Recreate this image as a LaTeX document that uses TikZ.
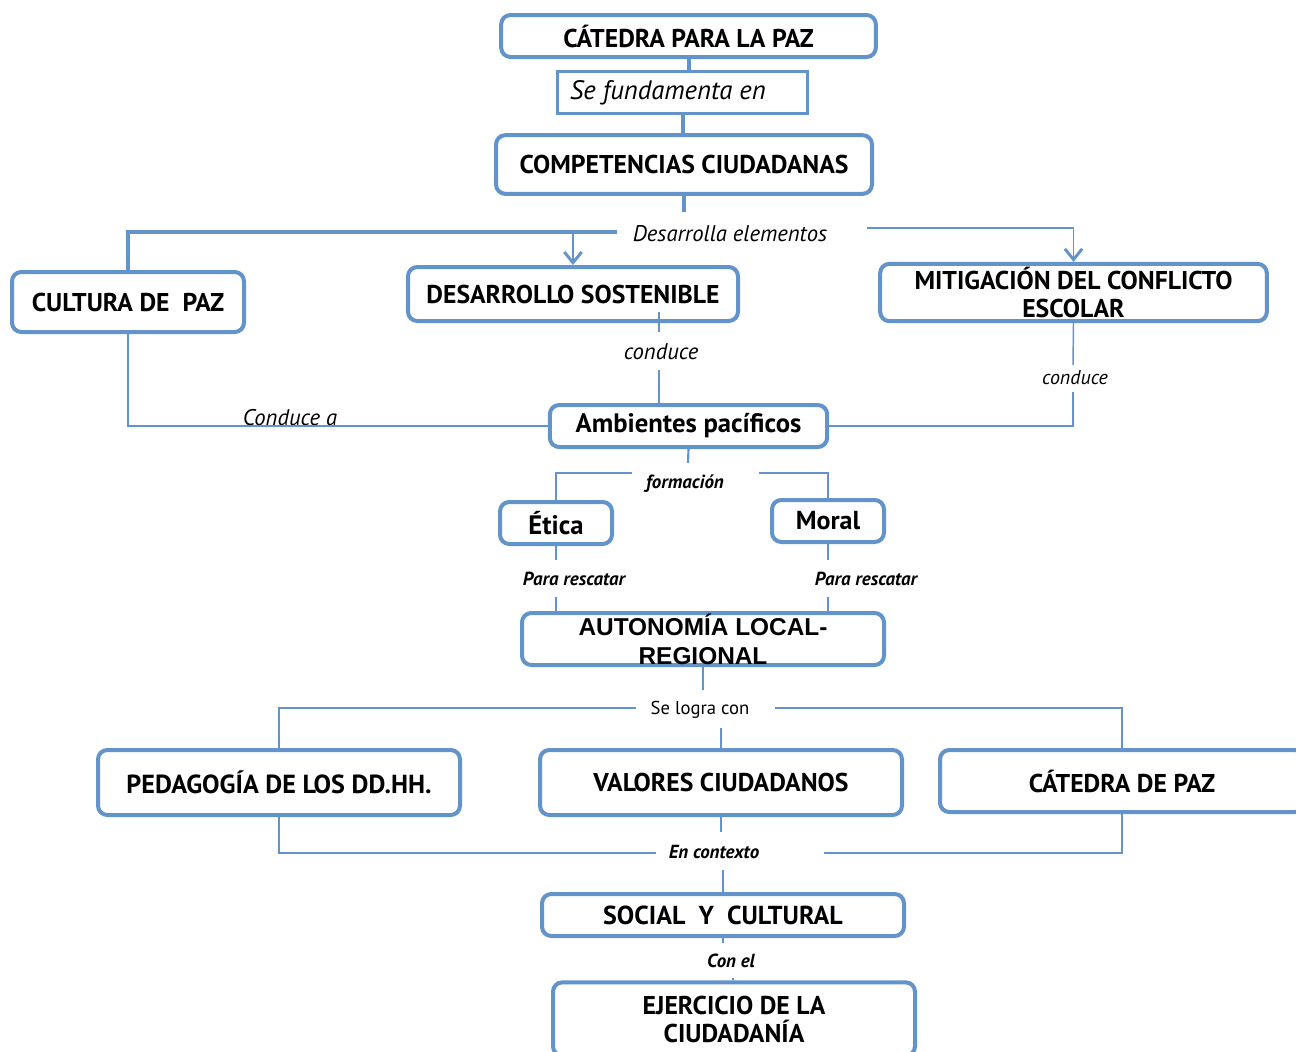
\documentclass[tikz,border=0pt]{standalone}
\usepackage{fontspec}
\setmainfont{PT Sans}
\newfontfamily\arialf{Liberation Sans}
\usetikzlibrary{arrows.meta}
\definecolor{bc}{RGB}{98,147,202}
\tikzset{
  box/.style={draw=bc, line width=3pt, rounded corners=7pt, fill=white, inner sep=0pt, align=center, font=\fontsize{19.3}{21}\selectfont\bfseries},
  conn/.style={draw=bc, line width=1.1pt},
  thickc/.style={draw=bc, line width=3pt},
  midc/.style={draw=bc, line width=1.6pt},
  arr/.style={-{Straight Barb[length=8pt,width=13pt,line width=2.2pt]}},
  lab/.style={inner sep=1pt, font=\fontsize{17}{18}\selectfont\itshape},
  slab/.style={inner sep=1pt, font=\fontsize{14.2}{15}\selectfont\bfseries\itshape},
}
\begin{document}
\begin{tikzpicture}[x=0.75pt,y=-0.75pt]
\path[use as bounding box] (0,0) rectangle (1296,1051);
\clip (0,0) rectangle (1296,1051);
\fill[white] (0,0) rectangle (1296,1051);
% nodes
\node[box, minimum width=281pt, minimum height=31.5pt] (cat) at (688.5,36) {CÁTEDRA PARA LA PAZ};
\node[draw=bc, line width=2.2pt, fill=white, minimum width=188pt, minimum height=32pt, inner sep=0pt, font=\fontsize{20}{21}\selectfont\itshape] (fund) at (682.5,92.5) {\hspace*{-22pt}\raisebox{-2pt}{Se fundamenta en}};
\node[box, minimum width=282pt, minimum height=44pt] (comp) at (684,164.5) {COMPETENCIAS CIUDADANAS};
\node[box, minimum width=174pt, minimum height=45pt] (cult) at (128,302) {CULTURA DE\ \ PAZ};
\node[box, minimum width=247.5pt, minimum height=40.5pt] (desa) at (573,294) {DESARROLLO SOSTENIBLE};
\node[box, minimum width=290pt, minimum height=43pt, font=\fontsize{19.3}{21}\selectfont\bfseries] (miti) at (1073.5,292.5) {MITIGACIÓN DEL CONFLICTO\\ESCOLAR};
\node[box, minimum width=208pt, minimum height=31.5pt, font=\fontsize{20}{21}\selectfont\bfseries] (amb) at (688.5,426) {Ambientes pacíficos};
\node[box, minimum width=84pt, minimum height=31.5pt, font=\fontsize{20}{21}\selectfont\bfseries] (etica) at (556,523) {Ética};
\node[box, minimum width=84pt, minimum height=31.5pt, font=\fontsize{19.5}{21}\selectfont\bfseries] (moral) at (828,521) {Moral};
\node[box, minimum width=271.5pt, minimum height=39pt, font=\arialf\fontsize{18.3}{21.5}\selectfont\bfseries] (auto) at (703,639) {AUTONOMÍA LOCAL-\\REGIONAL};
\node[box, minimum width=271.5pt, minimum height=48.75pt, font=\fontsize{19.6}{21}\selectfont\bfseries] (ped) at (279,782.5) {PEDAGOGÍA DE LOS DD.HH.};
\node[box, minimum width=271.5pt, minimum height=48.75pt] (val) at (721,782.5) {VALORES CIUDADANOS};
\node[box, minimum width=273pt, minimum height=46.5pt] (catp) at (1122,781) {CÁTEDRA DE PAZ};
\node[box, minimum width=271.5pt, minimum height=31.5pt, font=\fontsize{19.5}{21}\selectfont\bfseries] (soc) at (723,915) {SOCIAL\ \ Y\ \ CULTURAL};
\node[box, minimum width=271.5pt, minimum height=55pt, font=\fontsize{19.3}{21}\selectfont\bfseries] (ejer) at (734,1019) {EJERCICIO DE LA\\CIUDADANÍA};
% labels
\node[lab] (desl) at (730,234) {Desarrolla elementos};
\node[lab] (con1) at (661,352) {conduce};
\node[lab, font=\fontsize{15}{16}\selectfont\itshape] (con2) at (1075,378) {conduce};
\node[lab] (cona) at (290,418) {Conduce a};
\node[slab] (form) at (685,484) {formación};
\node[slab, font=\fontsize{14.2}{15}\selectfont\bfseries\itshape] (pr1) at (574,579) {Para rescatar};
\node[slab, font=\fontsize{14.2}{15}\selectfont\bfseries\itshape] (pr2) at (866,579) {Para rescatar};
\node[inner sep=1pt, font=\fontsize{14}{15}\selectfont] (slc) at (700,710) {Se logra con};
\node[slab] (enc) at (714,852) {En contexto};
\node[slab] (conel) at (731,961) {Con el};
% junction coordinates
\coordinate (c2) at (684,212);
\coordinate (d1) at (617,232);
\coordinate (d1b) at (617,230.5);
\coordinate (d3) at (867,228);
\coordinate (e1) at (659,312);
\coordinate (e2) at (659,332);
\coordinate (e3) at (659,370);
\coordinate (f1) at (1073,365);
\coordinate (f2) at (1073,392);
\coordinate (a1) at (688,463);
\coordinate (g1) at (632,473);
\coordinate (g2) at (759,473);
\coordinate (h0) at (556,560);
\coordinate (h1) at (556,597);
\coordinate (h3) at (828,560);
\coordinate (h2) at (828,597);
\coordinate (au) at (703,690);
\coordinate (i1) at (636,708);
\coordinate (i2) at (775,708);
\coordinate (i3) at (721,728);
\coordinate (j1) at (656,853);
\coordinate (j2) at (824,853);
\coordinate (vb) at (721,832);
\coordinate (k1) at (723,870);
\coordinate (sb) at (723,943);
\coordinate (l1) at (733,978);
% connectors
\draw[thickc] (cat.south) -- (cat.south |- fund.north);
\draw[thickc] (fund.south) -- (fund.south |- comp.north);
\draw[thickc] (comp.south) -- (c2);
\draw[thickc] (d1) -| (cult.north);
\draw[conn, arr] (d1b) -| (desa.north);
\draw[conn, arr] (d3) -| (miti.north);
\draw[conn] (e1) -- (e2);
\draw[conn] (e3) -- (e3 |- amb.north);
\draw[conn] (miti.south) -- (f1);
\draw[conn] (f2) |- (amb.east);
\draw[conn] (cult.south) |- (amb.west);
\draw[midc] (amb.south) -- (a1);
\draw[conn] (g1) -| (etica.north);
\draw[conn] (g2) -| (moral.north);
\draw[conn] (etica.south) -- (h0);
\draw[conn] (h1) -- (h1 |- auto.north);
\draw[conn] (moral.south) -- (h3);
\draw[conn] (h2) -- (h2 |- auto.north);
\draw[midc] (auto.south) -- (au);
\draw[conn] (i1) -| (ped.north);
\draw[conn] (i2) -| (catp.north);
\draw[conn] (i3) -- (i3 |- val.north);
\draw[conn] (ped.south) |- (j1);
\draw[conn] (j2) -| (catp.south);
\draw[conn] (val.south) -- (vb);
\draw[midc] (k1) -- (k1 |- soc.north);
\draw[conn] (soc.south) -- (sb);
\draw[conn] (l1) -- (l1 |- ejer.north);
\end{tikzpicture}
\end{document}
